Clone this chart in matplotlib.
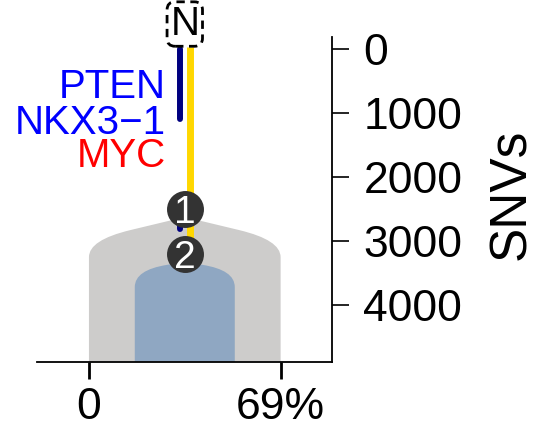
import matplotlib
matplotlib.use("Agg")
import matplotlib.pyplot as plt
from matplotlib.path import Path
from matplotlib.patches import PathPatch

plt.rcParams['font.family'] = ['Liberation Sans', 'DejaVu Sans']

# ---- data ----
clone_labels = ['1', '2']
clone_ccf = [69.0, 36.0]          # cancer cell fraction (%)
clone_top = [2623, 3327]          # SNVs at clone emergence (peak of shape)
clone_corner = [2983, 3452]       # SNVs at the corner control point
clone_shoulder = [3249, 3718]     # SNVs where the sides become vertical
clone_inner = [14.8, 11.6]        # corner curve width (% CCF)
node_snvs = [2498, 3194]          # node marker positions (SNVs)
trunk_snvs = [-38, 2951]          # yellow trunk
driver_segments = [(0, 1090), (2600, 2810)]  # navy driver segments
driver_labels = ['PTEN', 'NKX3\u22121', 'MYC']
driver_colors = ['#0000ff', '#0000ff', '#ff0000']
driver_label_snvs = [760, 1325, 1840]
xtick_vals = [0, 69]
xtick_labels = ['0', '69%']
ytick_vals = [0, 1000, 2000, 3000, 4000]
normal_label = 'N'
normal_snvs = -397

center = clone_ccf[0] / 2.0
ybottom = 4887

fig = plt.figure(figsize=(5.53, 4.33), dpi=100)
ax = fig.add_axes([37/553, 1-361.7/433, (332-37)/553, 325/433])
ax.set_xlim(-18.7, 87.5)
ax.set_ylim(ybottom, -199)

colors = ['#cdcccb', '#8fa7c2']


def clone_path(width, top, corner, shoulder, inner, bottom):
    left = center - width / 2
    right = center + width / 2
    inner_y = top + (corner - top) * (1 - inner / (width / 2))
    verts = [
        (left, bottom),
        (left, shoulder),
        (left, corner), (left + inner, inner_y),
        (center, top),
        (right - inner, inner_y),
        (right, corner), (right, shoulder),
        (right, bottom),
        (left, bottom),
    ]
    codes = [Path.MOVETO, Path.LINETO, Path.CURVE3, Path.CURVE3, Path.LINETO,
             Path.LINETO, Path.CURVE3, Path.CURVE3, Path.LINETO, Path.CLOSEPOLY]
    return Path(verts, codes)


for i in range(len(clone_ccf)):
    p = clone_path(clone_ccf[i], clone_top[i], clone_corner[i], clone_shoulder[i],
                   clone_inner[i], ybottom)
    ax.add_patch(PathPatch(p, facecolor=colors[i], edgecolor='none', zorder=1 + i))

# trunk and driver lines
ax.plot([center + 1.7, center + 1.7], trunk_snvs, color='#ffd700', lw=5.0,
        solid_capstyle='butt', zorder=4, clip_on=False)
for s, e in driver_segments:
    ax.plot([center - 1.7, center - 1.7], [s, e], color='#000080', lw=4.3,
            solid_capstyle='round', zorder=4, clip_on=False)

# nodes
for lab, y in zip(clone_labels, node_snvs):
    ax.scatter([center], [y], s=708, color='#333333', zorder=6, clip_on=False, linewidths=0)
    ax.text(center, y, lab, color='white', fontsize=28, ha='center', va='center_baseline',
            zorder=7)

# driver labels
for lab, c, y in zip(driver_labels, driver_colors, driver_label_snvs):
    ax.text(27.6, y, lab, color=c, fontsize=29, ha='right', va='baseline', zorder=5)

# normal node
ax.text(center, normal_snvs, normal_label, fontsize=29, ha='center', va='center', zorder=8,
        bbox=dict(boxstyle='round,pad=0.08,rounding_size=0.2', fc='white', ec='black',
                  ls=(0, (3, 2)), lw=2), clip_on=False)

# axes styling
for sp in ['top', 'left']:
    ax.spines[sp].set_visible(False)
for sp in ['bottom', 'right']:
    ax.spines[sp].set_linewidth(1.3)
ax.yaxis.tick_right()
ax.set_xticks(xtick_vals)
ax.set_xticklabels(xtick_labels, fontsize=32)
ax.set_yticks(ytick_vals)
ax.set_yticklabels([str(v) for v in ytick_vals], fontsize=32)
ax.tick_params(axis='x', length=12, width=2, pad=6.5)
ax.tick_params(axis='y', length=12, width=1.2, pad=10.5)

fig.text(511.5/553, 1-194/433, 'SNVs', rotation=90, fontsize=37, ha='center', va='center')

fig.savefig('out.png', dpi=100)
